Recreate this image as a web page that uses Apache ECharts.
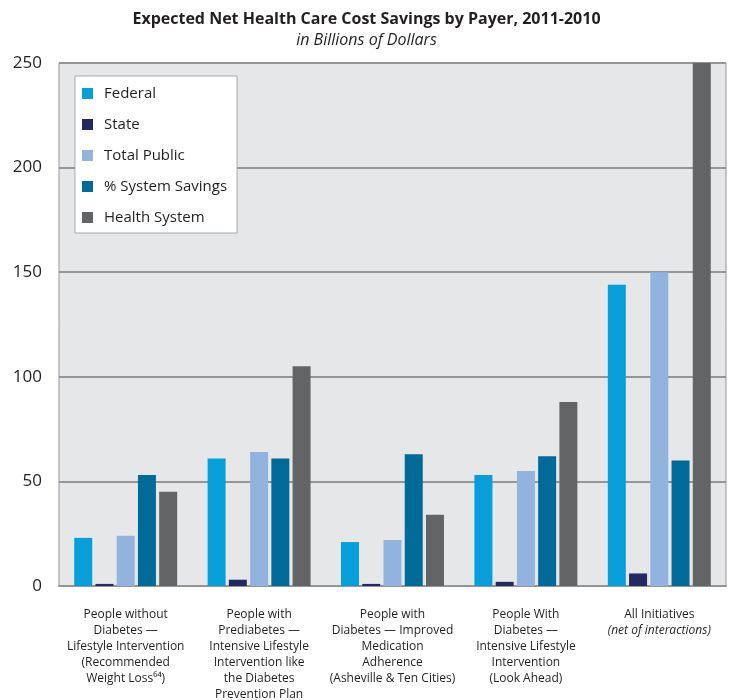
<!DOCTYPE html>
<html><head><meta charset="utf-8">
<script src="https://cdn.jsdelivr.net/npm/echarts@6/dist/echarts.min.js"></script>
<style>html,body{margin:0;padding:0;background:#fff}#c{width:733px;height:700px}</style>
</head><body><div id="c"></div>
<script>
var categories = [
  'People without\nDiabetes —\nLifestyle Intervention\n(Recommended\nWeight Loss⁶⁴)',
  'People with\nPrediabetes —\nIntensive Lifestyle\nIntervention like\nthe Diabetes\nPrevention Plan',
  'People with\nDiabetes — Improved\nMedication\nAdherence\n(Asheville & Ten Cities)',
  'People With\nDiabetes —\nIntensive Lifestyle\nIntervention\n(Look Ahead)',
  'All Initiatives\n(net of interactions)'
];
var seriesNames = ['Federal', 'State', 'Total Public', '% System Savings', 'Health System'];
var federal = [23, 61, 21, 53, 144];
var state = [1, 3, 1, 2, 6];
var totalPublic = [24, 64, 22, 55, 150];
var systemSavings = [53, 61, 63, 62, 60];
var healthSystem = [45, 105, 34, 88, 250];
var yTicks = [0, 50, 100, 150, 200, 250];
var colors = ['#079fd9', '#232a62', '#93b3df', '#006b99', '#636466'];

var dataSets = [federal, state, totalPublic, systemSavings, healthSystem];
var font = 'Open Sans';
var chart = echarts.init(document.getElementById('c'));
chart.setOption({
  animation: false,
  textStyle: { fontFamily: font },
  title: [
    { text: 'Expected Net Health Care Cost Savings by Payer, 2011-2010', left: 'center', top: 6,
      textStyle: { fontSize: 16, fontWeight: 'bold', color: '#231f20', fontFamily: font } },
    { text: 'in Billions of Dollars', left: 'center', top: 27,
      textStyle: { fontSize: 16, fontStyle: 'italic', fontWeight: 'normal', color: '#231f20', fontFamily: font } }
  ],
  legend: {
    orient: 'vertical', left: 75, top: 76,
    backgroundColor: '#ffffff', borderColor: '#a7a9ac', borderWidth: 1,
    padding: [10, 10, 8, 7], itemGap: 16, itemWidth: 11, itemHeight: 11,
    icon: 'rect',
    textStyle: { fontSize: 15, color: '#231f20', fontFamily: font, padding: [0, 0, 0, 6] },
    data: seriesNames
  },
  grid: {
    left: 59, right: 7, top: 63, bottom: 114, show: true, outerBoundsMode: 'none', containLabel: false,
    backgroundColor: '#e6e7e9', borderColor: '#939598', borderWidth: 1
  },
  xAxis: {
    type: 'category', data: categories,
    axisLine: { show: true, lineStyle: { color: '#939598', width: 2 } },
    axisTick: { show: false },
    axisLabel: {
      interval: 0, margin: 21, color: '#231f20', fontSize: 12, lineHeight: 16, fontFamily: font,
      formatter: function (v) {
        var lines = v.split('\n');
        return lines.map(function (l, i) {
          return (l.charAt(0) === '(' && l.indexOf('net of') >= 0) ? '{i|' + l + '}' : '{n|' + l + '}';
        }).join('\n');
      },
      rich: {
        n: { fontSize: 12, lineHeight: 16, color: '#231f20', fontFamily: font },
        i: { fontSize: 12, lineHeight: 16, color: '#231f20', fontStyle: 'italic', fontFamily: font }
      }
    }
  },
  yAxis: {
    type: 'value', min: 0, max: 250, interval: 50,
    axisLine: { show: false }, axisTick: { show: false },
    splitLine: { lineStyle: { color: '#939598', width: 2 } },
    axisLabel: { margin: 17, color: '#231f20', fontSize: 17, fontFamily: font,
      formatter: function (v) { return yTicks.indexOf(v) >= 0 ? String(v) : ''; } }
  },
  series: seriesNames.map(function (n, i) {
    return { name: n, type: 'bar', data: dataSets[i], barWidth: 18, barGap: '18%',
      itemStyle: { color: colors[i] } };
  })
});
</script></body></html>
